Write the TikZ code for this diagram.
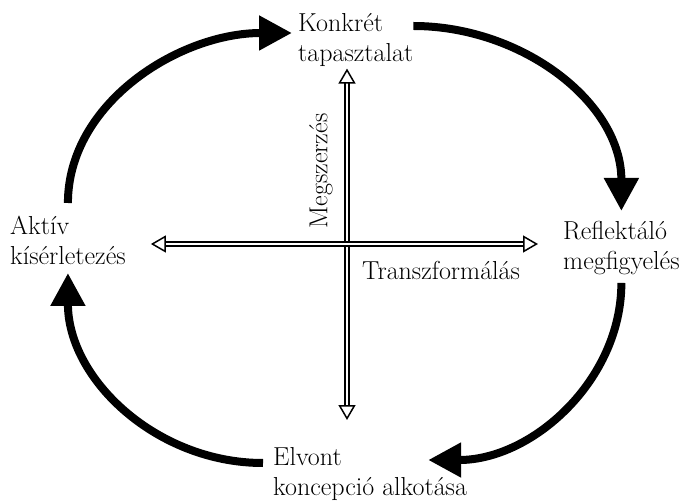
\documentclass[tikz,border=0pt]{standalone}
\usepackage{tikz}
\usetikzlibrary{arrows.meta, positioning, calc}

\begin{document}
\begin{tikzpicture}[x=1pt, y=1pt,
  lbl/.style={align=left, inner sep=0pt, font=\fontsize{26}{30}\selectfont},
  cyc/.style={line width=8pt, -{Triangle[length=33pt, width=33pt]}},
  dbl/.style={double=white, double distance=2.2pt, line width=1.5pt,
              {Triangle[open, length=15pt, width=17pt]}-{Triangle[open, length=15pt, width=17pt]}},
]
  \useasboundingbox (0,0) rectangle (685,-502);

  % the four stages
  \node[lbl, anchor=north west] (konkret) at (298,-13) {Konkrét\\tapasztalat};
  \node[lbl, anchor=north west] (reflekt) at (563,-221) {Reflektáló\\megfigyelés};
  \node[lbl, anchor=north west] (elvont)  at (273,-447) {Elvont\\koncepció alkotása};
  \node[lbl, anchor=north west] (aktiv)   at (10,-216)  {Aktív\\kísérletezés};

  % the two axes
  \coordinate (mid) at (347,-244);
  \draw[dbl, shorten <=2pt, shorten >=27pt] (konkret.south -| mid) -- (elvont.north -| mid);
  \draw[dbl, shorten <=25pt, shorten >=25pt] (aktiv.east |- mid) -- (reflekt.west |- mid);
  \node[lbl, rotate=90] (megsz) at (321,-171) {Megszerzés};
  \node[lbl, anchor=base west] (transz) at (362,-280) {Transzformálás};

  % the cycle
  \draw[cyc, shorten <=13pt] (aktiv.north) to[out=90, in=180]
    ($(konkret.north west)+(-6,-20)$);
  \draw[cyc] ($(konkret.north east)+(0,-13)$) to[out=0, in=90]
    ($(reflekt.north)+(0,10)$);
  \draw[cyc, shorten <=8pt] (reflekt.south) to[out=-90, in=0]
    ($(elvont.north east)+(-39,-13)$);
  \draw[cyc] ($(elvont.north west)+(-10,-16)$) to[out=180, in=-90]
    ($(aktiv.south)+(0,-8)$);
\end{tikzpicture}
\end{document}
